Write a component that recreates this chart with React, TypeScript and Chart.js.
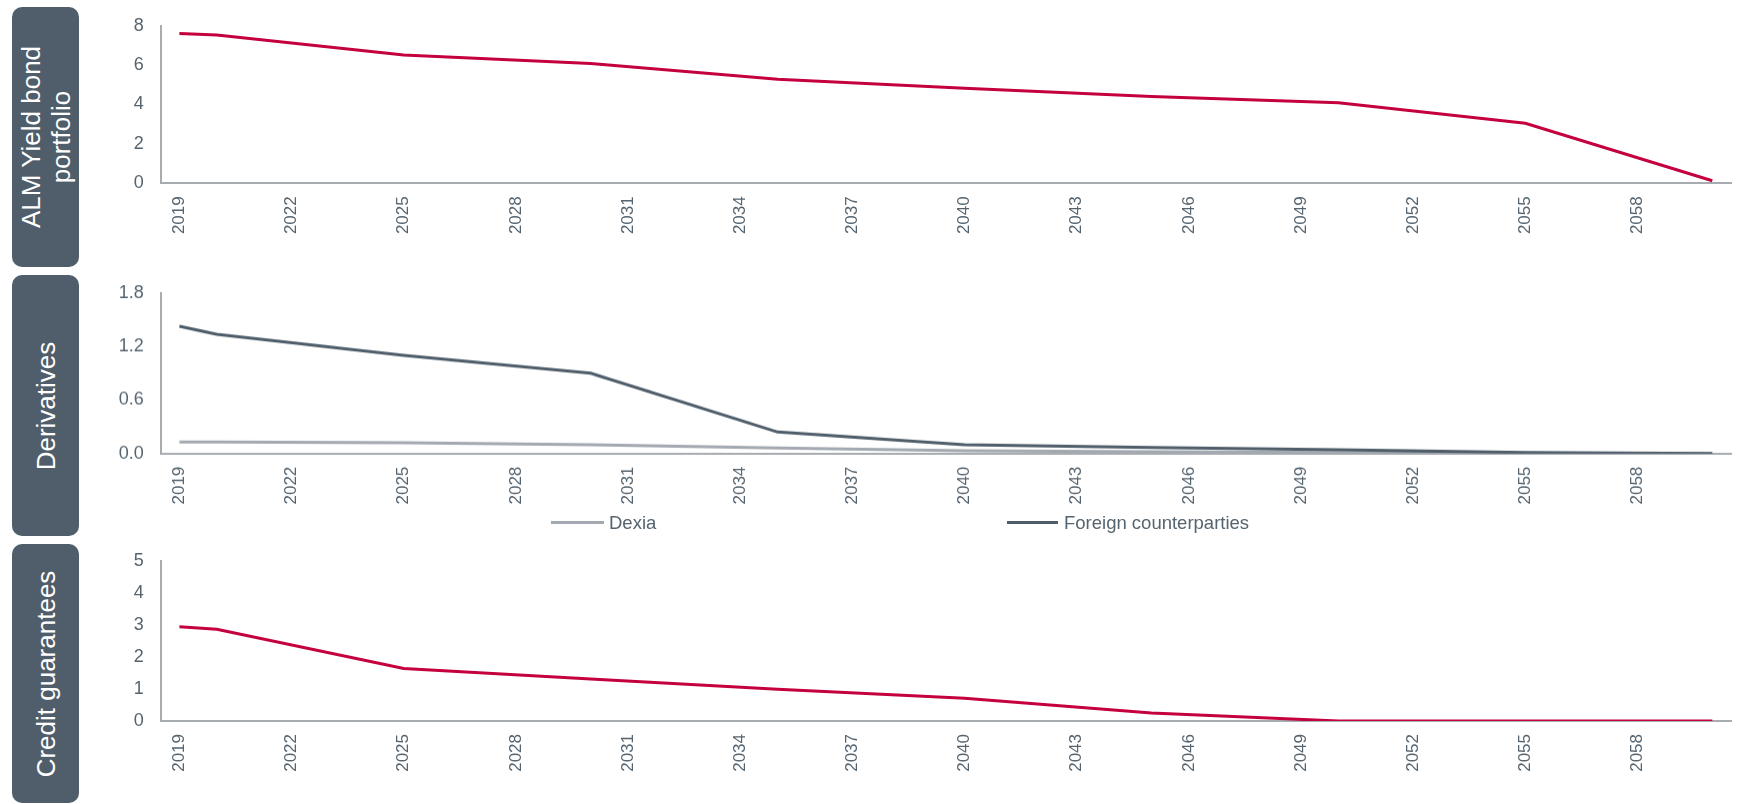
import React, { useEffect, useRef } from 'react';
import { Chart, registerables } from 'chart.js';

Chart.register(...registerables);

// ---------- data ----------
const categories = [
  '2019', '2020', '2021', '2022', '2023', '2024', '2025', '2026', '2027', '2028',
  '2029', '2030', '2031', '2032', '2033', '2034', '2035', '2036', '2037', '2038',
  '2039', '2040', '2041', '2042', '2043', '2044', '2045', '2046', '2047', '2048',
  '2049', '2050', '2051', '2052', '2053', '2054', '2055', '2056', '2057', '2058',
  '2059', '2060',
];
const tickYears = [
  '2019', '2022', '2025', '2028', '2031', '2034', '2037', '2040', '2043', '2046',
  '2049', '2052', '2055', '2058',
];
const knotYears = ['2019', '2020', '2025', '2030', '2035', '2040', '2045', '2050', '2055', '2060'];

const almYieldBond = [7.61, 7.53, 6.51, 6.08, 5.28, 4.82, 4.4, 4.09, 3.05, 0.13];
const dexia = [0.13, 0.128, 0.12, 0.098, 0.06, 0.03, 0.02, 0.01, 0.0, 0.0];
const foreignCounterparties = [1.425, 1.335, 1.1, 0.9, 0.24, 0.098, 0.068, 0.042, 0.01, 0.0];
const creditGuarantees = [2.94, 2.86, 1.64, 1.31, 0.99, 0.71, 0.25, 0.0, 0.0, 0.0];

const panelTitles = [['ALM Yield bond', 'portfolio'], ['Derivatives'], ['Credit guarantees']];
const legendLabels = ['Dexia', 'Foreign counterparties'];

// ---------- styles ----------
const FONT = '"Liberation Sans", Arial, Helvetica, sans-serif';
const TEXT = '#56646f';
const AXIS = '#a7acb1';
const RED = '#c5003e';
const SLATE = '#4e5d69';
const LIGHT = '#a3a9b0';
const BOX = '#4f5e6a';

Chart.defaults.font.family = FONT;

const toPoints = (values: number[]) => knotYears.map((y, i) => ({ x: y, y: values[i] }));

type PanelProps = {
  top: number;
  padTop: number;
  height: number;
  yMax: number;
  yStep: number;
  decimals: number;
  datasets: any[];
};

function LinePanel({ top, padTop, height, yMax, yStep, decimals, datasets }: PanelProps) {
  const ref = useRef<HTMLCanvasElement | null>(null);
  useEffect(() => {
    if (!ref.current) return;
    const chart = new Chart(ref.current, {
      type: 'line',
      data: { labels: categories, datasets },
      options: {
        animation: false,
        responsive: true,
        maintainAspectRatio: false,
        layout: { padding: { top: padTop, right: 29, bottom: 0, left: 0 } },
        plugins: { legend: { display: false }, tooltip: { enabled: false } },
        elements: { point: { radius: 0 }, line: { tension: 0, borderWidth: 3 } },
        scales: {
          x: {
            type: 'category',
            offset: true,
            grid: { display: false, drawTicks: false },
            border: { display: true, color: AXIS, width: 2 },
            ticks: {
              autoSkip: false,
              minRotation: 90,
              maxRotation: 90,
              padding: 13,
              color: TEXT,
              font: { size: 17, family: FONT },
              callback: (_v: any, i: number) => (tickYears.includes(categories[i]) ? categories[i] : ''),
            },
            afterFit: (s: any) => {
              s.height = 60;
            },
          },
          y: {
            min: 0,
            max: yMax,
            grid: { display: false, drawTicks: true, tickLength: 12 },
            border: { display: true, color: AXIS, width: 2 },
            ticks: {
              stepSize: yStep,
              padding: 5,
              color: TEXT,
              font: { size: 18, family: FONT },
              callback: (v: any) => Number(v).toFixed(decimals),
            },
            afterFit: (s: any) => {
              s.width = 70.7;
            },
          },
        },
      } as any,
    });
    return () => chart.destroy();
  }, []);
  return (
    <div style={{ position: 'absolute', left: 90, top, width: 1670, height }}>
      <canvas ref={ref} />
    </div>
  );
}

function SideBox({ top, height, lines }: { top: number; height: number; lines: string[] }) {
  return (
    <div
      style={{
        position: 'absolute',
        left: 12,
        top,
        width: 67,
        height,
        background: BOX,
        borderRadius: 10,
      }}
    >
      <div
        style={{
          position: 'absolute',
          left: '50%',
          top: '50%',
          transform: 'translate(-50%, -50%) rotate(-90deg)',
          whiteSpace: 'nowrap',
          textAlign: 'center',
          color: '#ffffff',
          fontFamily: FONT,
          fontSize: 26,
          lineHeight: '30px',
        }}
      >
        {lines.map((l, i) => (
          <div key={i}>{l}</div>
        ))}
      </div>
    </div>
  );
}

export default function App() {
  return (
    <div
      style={{
        position: 'absolute',
        left: 0,
        top: 0,
        width: 1760,
        height: 804,
        overflow: 'hidden',
        background: '#ffffff',
        fontFamily: FONT,
      }}
    >
      <SideBox top={7} height={260} lines={panelTitles[0]} />
      <SideBox top={275} height={261} lines={panelTitles[1]} />
      <SideBox top={544} height={259} lines={panelTitles[2]} />

      <LinePanel
        top={0}
        padTop={25.7}
        height={243.3}
        yMax={8}
        yStep={2}
        decimals={0}
        datasets={[{ label: 'ALM Yield bond portfolio', data: toPoints(almYieldBond), borderColor: RED, backgroundColor: RED }]}
      />
      <LinePanel
        top={270}
        padTop={22.7}
        height={242.7}
        yMax={1.8}
        yStep={0.6}
        decimals={1}
        datasets={[
          { label: legendLabels[1], data: toPoints(foreignCounterparties), borderColor: SLATE, backgroundColor: SLATE, order: 0 },
          { label: legendLabels[0], data: toPoints(dexia), borderColor: LIGHT, backgroundColor: LIGHT, order: 1 },
        ]}
      />
      <LinePanel
        top={540}
        padTop={20.7}
        height={241}
        yMax={5}
        yStep={1}
        decimals={0}
        datasets={[{ label: 'Credit guarantees', data: toPoints(creditGuarantees), borderColor: RED, backgroundColor: RED }]}
      />

      {/* legend for derivatives panel */}
      <div style={{ position: 'absolute', left: 551, top: 521, width: 53, height: 3, background: LIGHT }} />
      <div style={{ position: 'absolute', left: 609, top: 512.7, fontSize: 18.5, lineHeight: '20px', color: TEXT }}>
        {legendLabels[0]}
      </div>
      <div style={{ position: 'absolute', left: 1007, top: 521, width: 51, height: 3, background: SLATE }} />
      <div style={{ position: 'absolute', left: 1064, top: 512.7, fontSize: 18.5, lineHeight: '20px', color: TEXT }}>
        {legendLabels[1]}
      </div>
    </div>
  );
}
